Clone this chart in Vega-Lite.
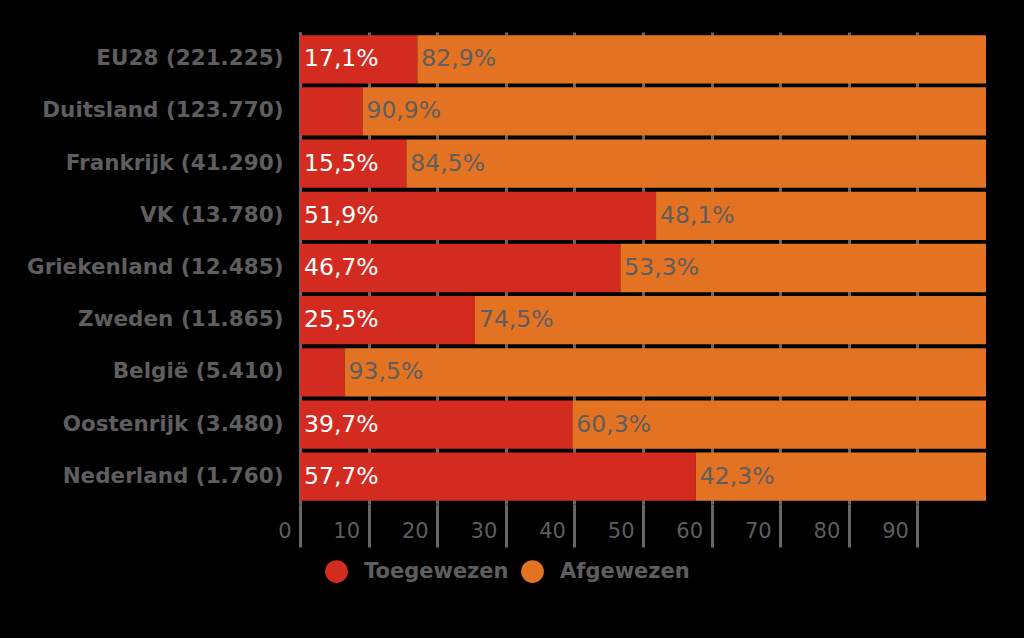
{
  "$schema": "https://vega.github.io/schema/vega-lite/v6.json",
  "width": 686,
  "height": 472,
  "autosize": "none",
  "padding": {"left": 300, "top": 32, "right": 38, "bottom": 134},
  "background": "black",
  "data": {
    "values": [
      {"land": "EU28 (221.225)", "status": "Toegewezen", "start": 0, "end": 17.1, "label": "17,1%"},
      {"land": "EU28 (221.225)", "status": "Afgewezen", "start": 17.1, "end": 100, "label": "82,9%"},
      {"land": "Duitsland (123.770)", "status": "Toegewezen", "start": 0, "end": 9.1, "label": ""},
      {"land": "Duitsland (123.770)", "status": "Afgewezen", "start": 9.1, "end": 100, "label": "90,9%"},
      {"land": "Frankrijk (41.290)", "status": "Toegewezen", "start": 0, "end": 15.5, "label": "15,5%"},
      {"land": "Frankrijk (41.290)", "status": "Afgewezen", "start": 15.5, "end": 100, "label": "84,5%"},
      {"land": "VK (13.780)", "status": "Toegewezen", "start": 0, "end": 51.9, "label": "51,9%"},
      {"land": "VK (13.780)", "status": "Afgewezen", "start": 51.9, "end": 100, "label": "48,1%"},
      {"land": "Griekenland (12.485)", "status": "Toegewezen", "start": 0, "end": 46.7, "label": "46,7%"},
      {"land": "Griekenland (12.485)", "status": "Afgewezen", "start": 46.7, "end": 100, "label": "53,3%"},
      {"land": "Zweden (11.865)", "status": "Toegewezen", "start": 0, "end": 25.5, "label": "25,5%"},
      {"land": "Zweden (11.865)", "status": "Afgewezen", "start": 25.5, "end": 100, "label": "74,5%"},
      {"land": "België (5.410)", "status": "Toegewezen", "start": 0, "end": 6.5, "label": ""},
      {"land": "België (5.410)", "status": "Afgewezen", "start": 6.5, "end": 100, "label": "93,5%"},
      {"land": "Oostenrijk (3.480)", "status": "Toegewezen", "start": 0, "end": 39.7, "label": "39,7%"},
      {"land": "Oostenrijk (3.480)", "status": "Afgewezen", "start": 39.7, "end": 100, "label": "60,3%"},
      {"land": "Nederland (1.760)", "status": "Toegewezen", "start": 0, "end": 57.7, "label": "57,7%"},
      {"land": "Nederland (1.760)", "status": "Afgewezen", "start": 57.7, "end": 100, "label": "42,3%"}
    ]
  },
  "encoding": {
    "y": {
      "field": "land", "type": "nominal", "sort": null, "title": null,
      "scale": {"paddingInner": 0.075, "paddingOuter": 0.06},
      "axis": {
        "domainColor": "#666666", "domainWidth": 3, "ticks": false,
        "labelFont": "DejaVu Sans", "labelFontSize": 21.5, "labelFontWeight": "bold",
        "labelColor": "#5e5e5e", "labelPadding": 17, "labelLimit": 300
      }
    }
  },
  "layer": [
    {
      "mark": {"type": "bar"},
      "encoding": {
        "x": {
          "field": "start", "type": "quantitative", "title": null,
          "scale": {"domain": [0, 100], "nice": false},
          "axis": {
            "values": [0, 10, 20, 30, 40, 50, 60, 70, 80, 90],
            "domain": false, "grid": true, "gridColor": "#666666", "gridWidth": 3,
            "tickColor": "#666666", "tickWidth": 3, "tickSize": 43,
            "labelAlign": "right", "labelOffset": -9, "labelPadding": -27,
            "labelFont": "DejaVu Sans", "labelFontSize": 21, "labelColor": "#5e5e5e",
            "labelBaseline": "top", "zindex": 0
          }
        },
        "x2": {"field": "end"},
        "color": {
          "field": "status", "type": "nominal",
          "scale": {"domain": ["Toegewezen", "Afgewezen"], "range": ["#d42b20", "#e37222"]},
          "legend": {
            "title": null, "orient": "none", "legendX": 25, "legendY": 528,
            "direction": "horizontal", "symbolType": "circle", "symbolSize": 520,
            "symbolStrokeWidth": 0, "symbolOpacity": 1,
            "labelFont": "DejaVu Sans", "labelFontSize": 21, "labelFontWeight": "bold",
            "labelColor": "#5e5e5e", "labelOffset": 16, "columnPadding": 12
          }
        }
      }
    },
    {
      "mark": {"type": "text", "align": "left", "baseline": "middle", "dx": 4, "font": "DejaVu Sans", "fontSize": 23.5},
      "encoding": {
        "x": {"field": "start", "type": "quantitative"},
        "text": {"field": "label"},
        "color": {
          "field": "status", "type": "nominal",
          "scale": {"domain": ["Toegewezen", "Afgewezen"], "range": ["#ffffff", "#5e5e5e"]},
          "legend": null
        }
      }
    }
  ],
  "resolve": {"scale": {"color": "independent"}},
  "config": {"view": {"stroke": null}}
}
